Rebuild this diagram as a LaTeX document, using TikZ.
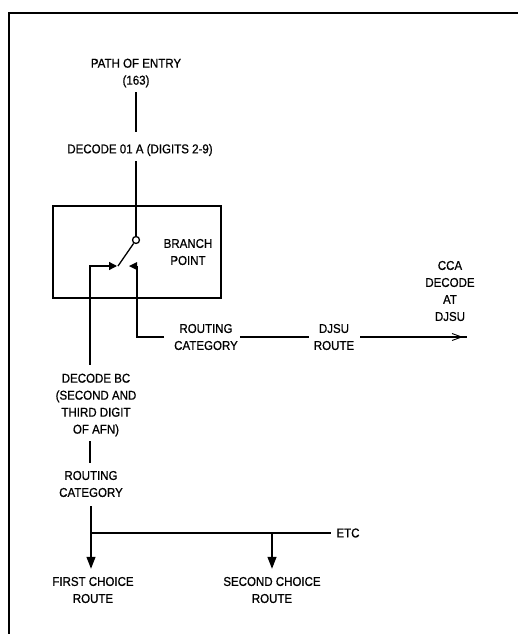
\documentclass[tikz,border=0pt]{standalone}
\usepackage{fontspec}
\setmainfont{Liberation Sans}[FakeStretch=0.9,FakeBold=0.8]
\usetikzlibrary{arrows.meta,calc}
\begin{document}
\begin{tikzpicture}[x=1pt,y=-1pt,
  lbl/.style={font=\fontsize{12.8}{17}\selectfont, align=center, inner sep=0pt},
  wire/.style={line width=1.3pt},
  arr/.style={wire,-{Triangle[length=12pt,width=9pt]}},
  sarr/.style={wire,-{Triangle[length=8pt,width=8pt]}},
  frame/.style={line width=1.6pt}]
\useasboundingbox (0,0) rectangle (518,634);
\draw[frame] (518,13) -- (9,13) -- (9,634);

% text nodes
\node[lbl] (path) at (136,73) {PATH OF ENTRY\\(163)};
\node[lbl] (dec01) at (140,150) {DECODE 01 A (DIGITS 2-9)};
\node[draw,wire,minimum width=168pt,minimum height=92pt,inner sep=0pt] (box) at (137,252) {};
\node[lbl] (branch) at (188,252) {BRANCH\\POINT};
\node[lbl] (routR) at (206,337) {ROUTING\\CATEGORY};
\node[lbl] (djsu) at (334,337) {DJSU\\ROUTE};
\node[lbl] (cca) at (450,291) {CCA\\DECODE\\AT\\DJSU};
\node[lbl] (decBC) at (96,405) {DECODE BC\\(SECOND AND\\THIRD DIGIT\\OF AFN)};
\node[lbl] (routL) at (91,484) {ROUTING\\CATEGORY};
\node[lbl] (first) at (93,590) {FIRST CHOICE\\ROUTE};
\node[lbl] (second) at (272,590) {SECOND CHOICE\\ROUTE};
\node[lbl] (etc) at (348,533) {ETC};

% switch
\node[circle,draw,wire,fill=white,inner sep=0pt,minimum size=7pt] (pivot) at (136,240) {};
\coordinate (bladeEnd) at (118,266);
\coordinate (contactL) at (117,266);
\coordinate (contactR) at (129,266);
\coordinate (legL) at (90,266);
\coordinate (legR) at (137,266);
\coordinate (ccaEnd) at (467,337);

% connectors
\draw[wire] ($(path.south -| pivot)+(0,5)$) -- ($(dec01.north -| pivot)+(0,-12)$);
\draw[wire] ($(dec01.south -| pivot)+(0,5)$) -- (pivot.north);
\draw[wire] (pivot.235) -- (bladeEnd);
\draw[sarr] ($(decBC.north -| legL)+(0,-9)$) |- (contactL);
\draw[wire] ($(routR.west)+(-10,0)$) -| (legR);
\fill (contactR) -- ++(8,-4) -- ++(0,8) -- cycle;
\draw[wire] ($(routR.east)+(2,0)$) -- ($(djsu.west)+(-5,0)$);
\draw[wire] ($(djsu.east)+(6,0)$) -- (ccaEnd);
\draw[line width=0.9pt] ($(ccaEnd)+(-15,-3.5)$) -- ($(ccaEnd)+(-7,-0.6)$);
\draw[line width=0.9pt] ($(ccaEnd)+(-15,3.5)$) -- ($(ccaEnd)+(-7,0.6)$);

\draw[wire] ($(decBC.south -| legL)+(0,5)$) -- ($(routL.north -| legL)+(0,-8)$);
\draw[arr] ($(routL.south)+(0,9)$) -- ($(first.north -| routL.south)+(0,-8)$);
\draw[wire] (routL.south |- etc.west) -- ($(etc.west)+(-5,0)$);
\draw[arr] (second.north |- etc.west) -- ($(second.north)+(0,-8)$);
\end{tikzpicture}
\end{document}
